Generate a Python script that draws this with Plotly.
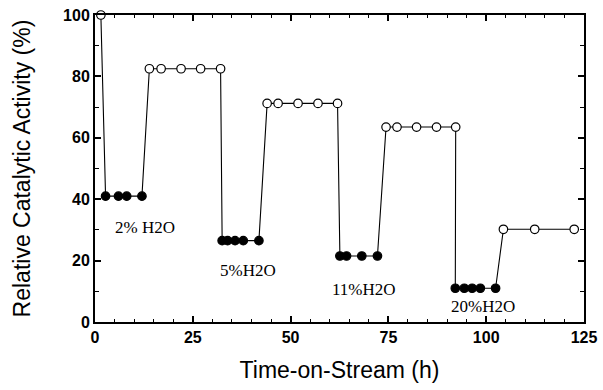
import plotly.graph_objects as go

# Time-on-stream (h) and relative activity (%) for each measurement
time_h = [1.5,
          2.7, 6.0, 8.1, 12.0,
          13.9, 16.9, 22.0, 27.0, 32.1,
          32.5, 33.9, 35.8, 37.9, 41.9,
          44.0, 46.8, 51.9, 57.0, 62.0,
          62.6, 64.3, 68.2, 72.2,
          74.4, 77.2, 82.2, 87.3, 92.2,
          92.1, 94.4, 96.4, 98.5, 102.4,
          104.4, 112.4, 122.5]
activity = [100,
            41, 41, 41, 41,
            82.5, 82.5, 82.5, 82.5, 82.5,
            26.5, 26.5, 26.5, 26.5, 26.5,
            71.2, 71.2, 71.2, 71.2, 71.2,
            21.5, 21.5, 21.5, 21.5,
            63.5, 63.5, 63.5, 63.5, 63.5,
            11, 11, 11, 11, 11,
            30.2, 30.2, 30.2]
# True where water is being co-fed (filled markers)
wet = [False,
       True, True, True, True,
       False, False, False, False, False,
       True, True, True, True, True,
       False, False, False, False, False,
       True, True, True, True,
       False, False, False, False, False,
       True, True, True, True, True,
       False, False, False]

label_text = ["2% H2O", "5%H2O", "11%H2O", "20%H2O"]
label_x = [12.8, 39.2, 68.7, 99.2]
label_y = [30.9, 16.9, 10.7, 5.1]

fig = go.Figure()
fig.add_trace(go.Scatter(
    x=time_h, y=activity, mode="lines+markers",
    line=dict(color="black", width=1.1),
    marker=dict(symbol="circle", size=8.5,
                color=["black" if w else "white" for w in wet],
                line=dict(color="black", width=1.2)),
    cliponaxis=False, showlegend=False,
))

for t, x, y in zip(label_text, label_x, label_y):
    fig.add_annotation(x=x, y=y, text=t, showarrow=False,
                       font=dict(family="Liberation Serif, Times New Roman, serif",
                                 size=17, color="black"))

sans = "Liberation Sans, Arial, sans-serif"
tick_font = dict(family=sans, size=16, color="black", weight="bold")

fig.update_xaxes(
    range=[0, 125], tickvals=[0, 25, 50, 75, 100, 125],
    ticks="inside", ticklen=6, tickwidth=1.5, tickcolor="black",
    minor=dict(dtick=5, ticks="inside", ticklen=3, tickwidth=1, tickcolor="black"),
    showline=True, linecolor="black", linewidth=2, mirror="allticks",
    showgrid=False, zeroline=False, tickfont=tick_font, automargin=False,
    title=dict(text="Time-on-Stream (h)", standoff=17,
               font=dict(family=sans, size=23, color="black")),
)
fig.update_yaxes(
    range=[0, 100], tickvals=[0, 20, 40, 60, 80, 100],
    ticks="inside", ticklen=6, tickwidth=1.5, tickcolor="black",
    minor=dict(dtick=10, ticks="inside", ticklen=4, tickwidth=1, tickcolor="black"),
    showline=True, linecolor="black", linewidth=2, mirror="allticks",
    showgrid=False, zeroline=False, tickfont=tick_font, automargin=False,
    title=dict(text="Relative Catalytic Activity (%)", standoff=26,
               font=dict(family=sans, size=23, color="black")),
)

fig.update_layout(
    width=603, height=390,
    margin=dict(l=95, r=19, t=15, b=68),
    paper_bgcolor="white", plot_bgcolor="white",
)

fig.write_html("out.html")
